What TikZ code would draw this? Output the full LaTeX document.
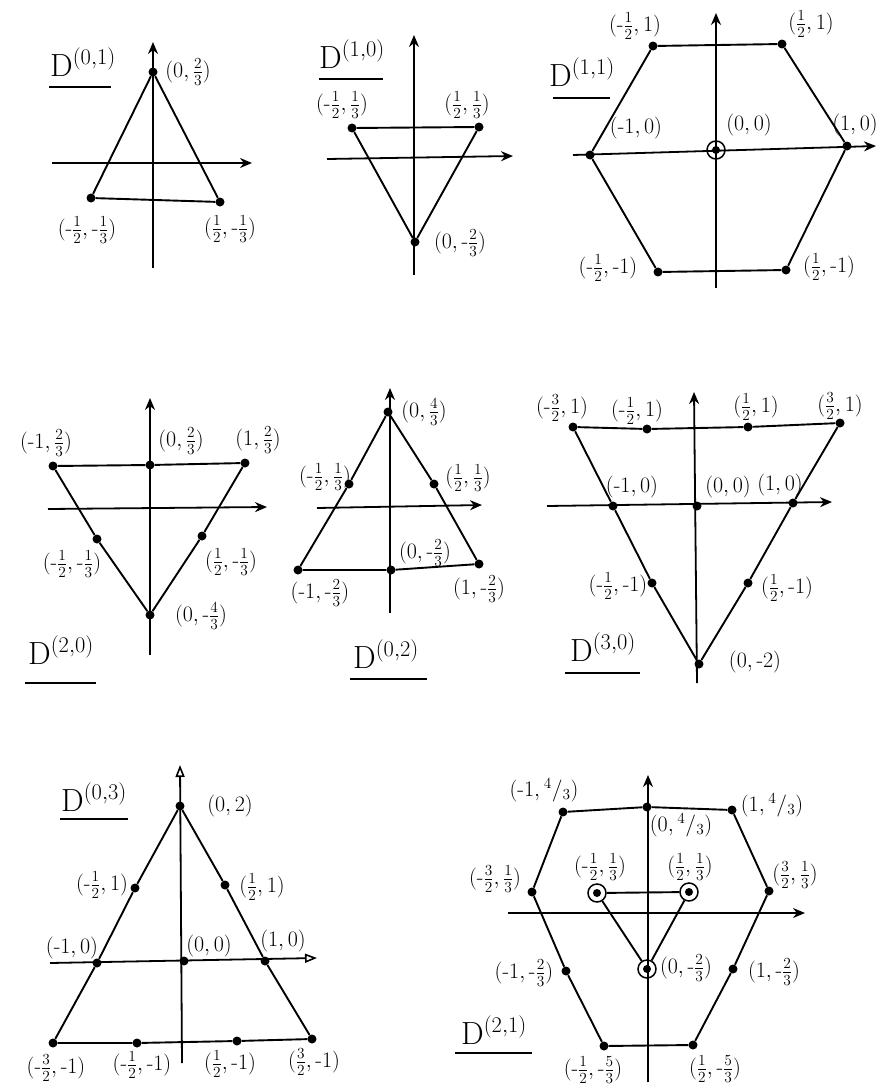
\RequirePackage{fix-cm}
\documentclass[tikz,border=0pt]{standalone}
\usepackage{amsmath}
\usetikzlibrary{arrows.meta}
\newcommand{\mn}{\text{-}}
\tikzset{
    wt/.style={circle, fill, inner sep=0pt, minimum size=9pt},
    wtwo/.style={circle, draw, line width=1.5pt, inner sep=0pt, minimum size=18pt,
        path picture={\fill (path picture bounding box.center) circle (4pt);}},
    ax/.style={line width=1.8pt, -{Stealth[length=12pt,width=10pt]}},
    axopen/.style={line width=1.8pt, -{Triangle[open,length=12pt,width=9pt,line width=1.6pt]}},
    wline/.style={line width=1.9pt},
    uline/.style={line width=1.6pt},
    wlab/.style={font=\fontsize{22}{24}\selectfont, inner sep=0pt},
    dname/.style={font=\fontsize{32}{34}\selectfont, inner sep=0pt},
}
\begin{document}
\begin{tikzpicture}[x=1pt, y=-1pt]
        \useasboundingbox (0,0) rectangle (877,1092);

        \coordinate (a-xl) at (52,163);  \coordinate (a-xr) at (252,163);
        \coordinate (a-yb) at (153,268); \coordinate (a-yt) at (153,42);
        \draw[ax] (a-xl) -- (a-xr);
        \draw[ax] (a-yb) -- (a-yt);
        \node[wt] (a1) at (153,72) {};
        \node[wt] (a2) at (91,198) {};
        \node[wt] (a3) at (220,202) {};
        \draw[wline] (a1) -- (a2) -- (a3) -- (a1);
        \node[wlab] (la1) at (188,72) {$(0,\frac{2}{3})$};
        \node[wlab] (la2) at (87,230) {$(\mn\frac{1}{2},\mn\frac{1}{3})$};
        \node[wlab] (la3) at (230,229) {$(\frac{1}{2},\mn\frac{1}{3})$};
        \node[dname] (ta) at (83,62) {$\mathrm{D}^{(0,1)}$};
        \coordinate (ua1) at (49,87); \coordinate (ua2) at (111,87);
        \draw[uline] (ua1) -- (ua2);

        \coordinate (b-xl) at (327,159); \coordinate (b-xr) at (513,156);
        \coordinate (b-yb) at (414,275); \coordinate (b-yt) at (414,35);
        \draw[ax] (b-xl) -- (b-xr);
        \draw[ax] (b-yb) -- (b-yt);
        \node[wt] (b1) at (352,128) {};
        \node[wt] (b2) at (479,127) {};
        \node[wt] (b3) at (415,242) {};
        \draw[wline] (b1) -- (b2) -- (b3) -- (b1);
        \node[wlab] (lb1) at (342,105) {$(\mn\frac{1}{2},\frac{1}{3})$};
        \node[wlab] (lb2) at (467,105) {$(\frac{1}{2},\frac{1}{3})$};
        \node[wlab] (lb3) at (460,243) {$(0,\mn\frac{2}{3})$};
        \node[dname] (tb) at (352,54) {$\mathrm{D}^{(1,0)}$};
        \coordinate (ub1) at (319,79); \coordinate (ub2) at (383,79);
        \draw[uline] (ub1) -- (ub2);

        \coordinate (c-xl) at (573,155); \coordinate (c-xr) at (876,146);
        \coordinate (c-yb) at (716,288); \coordinate (c-yt) at (716,13);
        \draw[ax] (c-xl) -- (c-xr);
        \draw[ax] (c-yb) -- (c-yt);
        \node[wt] (c1) at (653,46) {};
        \node[wt] (c2) at (782,44) {};
        \node[wt] (c3) at (847,146) {};
        \node[wt] (c4) at (786,270) {};
        \node[wt] (c5) at (658,272) {};
        \node[wt] (c6) at (590,155) {};
        \node[wtwo] (c0) at (716,150) {};
        \draw[wline] (c1) -- (c2) -- (c3) -- (c4) -- (c5) -- (c6) -- (c1);
        \node[wlab] (lc1) at (635,26) {$(\mn\frac{1}{2},1)$};
        \node[wlab] (lc2) at (811,24) {$(\frac{1}{2},1)$};
        \node[wlab] (lc3) at (855,125) {$(1,0)$};
        \node[wlab] (lc4) at (829,267) {$(\frac{1}{2},\mn1)$};
        \node[wlab] (lc5) at (608,268) {$(\mn\frac{1}{2},\mn1)$};
        \node[wlab] (lc6) at (636,128) {$(\mn1,0)$};
        \node[wlab] (lc0) at (749,125) {$(0,0)$};
        \node[dname] (tc) at (582,72) {$\mathrm{D}^{(1,1)}$};
        \coordinate (uc1) at (553,98); \coordinate (uc2) at (610,98);
        \draw[uline] (uc1) -- (uc2);

        \coordinate (d-xl) at (48,509);  \coordinate (d-xr) at (267,507);
        \coordinate (d-yb) at (150,655); \coordinate (d-yt) at (150,398);
        \draw[ax] (d-xl) -- (d-xr);
        \draw[ax] (d-yb) -- (d-yt);
        \node[wt] (d1) at (53,466) {};
        \node[wt] (d2) at (150,465) {};
        \node[wt] (d3) at (245,463) {};
        \node[wt] (d4) at (97,539) {};
        \node[wt] (d5) at (202,536) {};
        \node[wt] (d6) at (150,615) {};
        \draw[wline] (d1) -- (d2) -- (d3) -- (d5) -- (d6) -- (d4) -- (d1);
        \node[wlab] (ld1) at (46,443) {$(\mn1,\frac{2}{3})$};
        \node[wlab] (ld2) at (181,441) {$(0,\frac{2}{3})$};
        \node[wlab] (ld3) at (258,440) {$(1,\frac{2}{3})$};
        \node[wlab] (ld4) at (72,564) {$(\mn\frac{1}{2},\mn\frac{1}{3})$};
        \node[wlab] (ld5) at (231,562) {$(\frac{1}{2},\mn\frac{1}{3})$};
        \node[wlab] (ld6) at (201,616) {$(0,\mn\frac{4}{3})$};
        \node[dname] (td) at (61,650) {$\mathrm{D}^{(2,0)}$};
        \coordinate (ud1) at (25,683); \coordinate (ud2) at (96,683);
        \draw[uline] (ud1) -- (ud2);

        \coordinate (e-xl) at (317,508); \coordinate (e-xr) at (482,505);
        \coordinate (e-yb) at (390,613); \coordinate (e-yt) at (390,388);
        \draw[ax] (e-xl) -- (e-xr);
        \draw[ax] (e-yb) -- (e-yt);
        \node[wt] (e1) at (388,412) {};
        \node[wt] (e2) at (349,484) {};
        \node[wt] (e3) at (434,484) {};
        \node[wt] (e4) at (298,570) {};
        \node[wt] (e5) at (391,570) {};
        \node[wt] (e6) at (479,564) {};
        \draw[wline] (e1) -- (e2) -- (e4) -- (e5) -- (e6) -- (e3) -- (e1);
        \node[wlab] (le1) at (424,412) {$(0,\frac{4}{3})$};
        \node[wlab] (le2) at (325,477) {$(\mn\frac{1}{2},\frac{1}{3})$};
        \node[wlab] (le3) at (468,478) {$(\frac{1}{2},\frac{1}{3})$};
        \node[wlab] (le4) at (320,593) {$(\mn1,\mn\frac{2}{3})$};
        \node[wlab] (le5) at (425,553) {$(0,\mn\frac{2}{3})$};
        \node[wlab] (le6) at (479,589) {$(1,\mn\frac{2}{3})$};
        \node[dname] (te) at (386,654) {$\mathrm{D}^{(0,2)}$};
        \coordinate (ue1) at (350,679); \coordinate (ue2) at (427,679);
        \draw[uline] (ue1) -- (ue2);

        \coordinate (f-xl) at (547,506); \coordinate (f-xr) at (832,502);
        \coordinate (f-yb) at (697,683); \coordinate (f-yt) at (694,392);
        \draw[ax] (f-xl) -- (f-xr);
        \draw[ax] (f-yb) -- (f-yt);
        \node[wt] (f1) at (573,427) {};
        \node[wt] (f2) at (647,429) {};
        \node[wt] (f3) at (748,427) {};
        \node[wt] (f4) at (840,423) {};
        \node[wt] (f5) at (613,506) {};
        \node[wt] (f6) at (697,506) {};
        \node[wt] (f7) at (793,503) {};
        \node[wt] (f8) at (652,583) {};
        \node[wt] (f9) at (748,583) {};
        \node[wt] (f10) at (699,664) {};
        \draw[wline] (f1) -- (f2) -- (f3) -- (f4) -- (f7) -- (f9) -- (f10)
            -- (f8) -- (f5) -- (f1);
        \node[wlab] (lf1) at (562,408) {$(\mn\frac{3}{2},1)$};
        \node[wlab] (lf2) at (637,411) {$(\mn\frac{1}{2},1)$};
        \node[wlab] (lf3) at (756,407) {$(\frac{1}{2},1)$};
        \node[wlab] (lf4) at (840,406) {$(\frac{3}{2},1)$};
        \node[wlab] (lf5) at (632,487) {$(\mn1,0)$};
        \node[wlab] (lf6) at (728,487) {$(0,0)$};
        \node[wlab] (lf7) at (780,485) {$(1,0)$};
        \node[wlab] (lf8) at (618,586) {$(\mn\frac{1}{2},\mn1)$};
        \node[wlab] (lf9) at (787,588) {$(\frac{1}{2},\mn1)$};
        \node[wlab] (lf10) at (755,662) {$(0,\mn2)$};
        \node[dname] (tf) at (603,647) {$\mathrm{D}^{(3,0)}$};
        \coordinate (uf1) at (565,673); \coordinate (uf2) at (640,673);
        \draw[uline] (uf1) -- (uf2);

        \coordinate (g-xl) at (50,963);   \coordinate (g-xr) at (317,958);
        \coordinate (g-yb) at (182,1063); \coordinate (g-yt) at (180,765);
        \draw[axopen] (g-xl) -- (g-xr);
        \draw[axopen] (g-yb) -- (g-yt);
        \node[wt] (g1) at (180,806) {};
        \node[wt] (g2) at (135,888) {};
        \node[wt] (g3) at (225,885) {};
        \node[wt] (g4) at (97,963) {};
        \node[wt] (g5) at (184,961) {};
        \node[wt] (g6) at (265,961) {};
        \node[wt] (g7) at (53,1043) {};
        \node[wt] (g8) at (137,1043) {};
        \node[wt] (g9) at (237,1041) {};
        \node[wt] (g10) at (312,1039) {};
        \draw[wline] (g1) -- (g2) -- (g4) -- (g7) -- (g8) -- (g9) -- (g10)
            -- (g6) -- (g3) -- (g1);
        \node[wlab] (lg1) at (230,806) {$(0,2)$};
        \node[wlab] (lg2) at (102,885) {$(\mn\frac{1}{2},1)$};
        \node[wlab] (lg3) at (262,887) {$(\frac{1}{2},1)$};
        \node[wlab] (lg4) at (72,948) {$(\mn1,0)$};
        \node[wlab] (lg5) at (209,946) {$(0,0)$};
        \node[wlab] (lg6) at (283,941) {$(1,0)$};
        \node[wlab] (lg7) at (56,1068) {$(\mn\frac{3}{2},\mn1)$};
        \node[wlab] (lg8) at (142,1065) {$(\mn\frac{1}{2},\mn1)$};
        \node[wlab] (lg9) at (230,1064) {$(\frac{1}{2},\mn1)$};
        \node[wlab] (lg10) at (314,1062) {$(\frac{3}{2},\mn1)$};
        \node[dname] (tg) at (94,797) {$\mathrm{D}^{(0,3)}$};
        \coordinate (ug1) at (60,819); \coordinate (ug2) at (128,819);
        \draw[uline] (ug1) -- (ug2);

        \coordinate (h-xl) at (508,913);  \coordinate (h-xr) at (805,913);
        \coordinate (h-yb) at (648,1082); \coordinate (h-yt) at (648,775);
        \draw[ax] (h-xl) -- (h-xr);
        \draw[ax] (h-yb) -- (h-yt);
        \node[wt] (h1) at (563,812) {};
        \node[wt] (h2) at (647,807) {};
        \node[wt] (h3) at (732,810) {};
        \node[wt] (h4) at (769,891) {};
        \node[wt] (h5) at (733,969) {};
        \node[wt] (h6) at (693,1045) {};
        \node[wt] (h7) at (604,1046) {};
        \node[wt] (h8) at (566,971) {};
        \node[wt] (h9) at (532,892) {};
        \node[wtwo] (h10) at (597,893) {};
        \node[wtwo] (h11) at (689,892) {};
        \node[wtwo] (h12) at (647,969) {};
        \draw[wline] (h1) -- (h2) -- (h3) -- (h4) -- (h5) -- (h6) -- (h7)
            -- (h8) -- (h9) -- (h1);
        \draw[wline] (h10) -- (h11) -- (h12) -- (h10);
        \node[wlab] (lh1) at (544,790) {$(\mn1,{}^{4}/_{3})$};
        \node[wlab] (lh2) at (681,825) {$(0,{}^{4}/_{3})$};
        \node[wlab] (lh3) at (772,805) {$(1,{}^{4}/_{3})$};
        \node[wlab] (lh4) at (795,875) {$(\frac{3}{2},\frac{1}{3})$};
        \node[wlab] (lh5) at (774,972) {$(1,\mn\frac{2}{3})$};
        \node[wlab] (lh6) at (715,1069) {$(\frac{1}{2},\mn\frac{5}{3})$};
        \node[wlab] (lh7) at (593,1070) {$(\mn\frac{1}{2},\mn\frac{5}{3})$};
        \node[wlab] (lh8) at (524,973) {$(\mn1,\mn\frac{2}{3})$};
        \node[wlab] (lh9) at (495,879) {$(\mn\frac{3}{2},\frac{1}{3})$};
        \node[wlab] (lh10) at (600,867) {$(\mn\frac{1}{2},\frac{1}{3})$};
        \node[wlab] (lh11) at (690,867) {$(\frac{1}{2},\frac{1}{3})$};
        \node[wlab] (lh12) at (686,968) {$(0,\mn\frac{2}{3})$};
        \node[dname] (th) at (494,1030) {$\mathrm{D}^{(2,1)}$};
        \coordinate (uh1) at (455,1053); \coordinate (uh2) at (532,1053);
        \draw[uline] (uh1) -- (uh2);
\end{tikzpicture}
\end{document}
